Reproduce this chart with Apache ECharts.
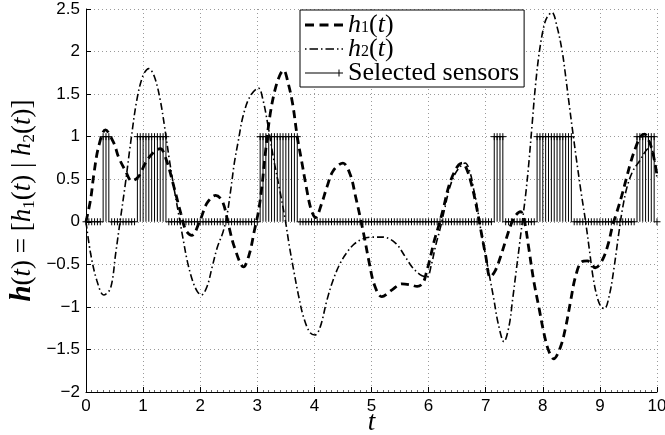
<!DOCTYPE html>
<html><head><meta charset="utf-8">
<script src="https://cdn.jsdelivr.net/npm/echarts@6/dist/echarts.min.js"></script>
<style>html,body{margin:0;padding:0;background:#fff}#c{width:665px;height:435px}</style>
</head><body><div id="c"></div>
<script>
// ---- data ----
const h1T = [0,0.08,0.14,0.22,0.34,0.49,0.57,0.69,0.8,0.92,1.04,1.16,1.3,1.42,1.54,1.66,1.75,1.85,2.0,2.12,2.27,2.39,2.5,2.6,2.76,2.86,2.95,3.02,3.08,3.14,3.22,3.31,3.4,3.46,3.54,3.62,3.7,3.78,3.86,3.94,4.02,4.13,4.22,4.33,4.5,4.63,4.72,4.8,4.88,4.96,5.05,5.18,5.36,5.53,5.68,5.8,5.9,5.96,6.03,6.1,6.18,6.26,6.35,6.44,6.53,6.59,6.66,6.74,6.82,6.91,7.0,7.08,7.17,7.26,7.35,7.45,7.53,7.61,7.68,7.75,7.84,7.93,8.02,8.1,8.19,8.31,8.4,8.49,8.57,8.68,8.78,8.92,9.05,9.15,9.22,9.3,9.38,9.46,9.54,9.63,9.71,9.78,9.86,9.93,10];
const h1V = [0,0.26,0.57,0.88,1.08,0.92,0.76,0.6,0.48,0.53,0.69,0.8,0.86,0.7,0.41,0.1,-0.1,-0.16,0.02,0.22,0.31,0.24,-0.05,-0.3,-0.53,-0.38,-0.1,0.12,0.41,0.8,1.24,1.55,1.73,1.78,1.63,1.38,1.0,0.7,0.4,0.15,0.05,0.22,0.41,0.6,0.69,0.55,0.3,0.06,-0.2,-0.48,-0.74,-0.88,-0.8,-0.73,-0.74,-0.76,-0.72,-0.6,-0.42,-0.22,-0.04,0.16,0.41,0.57,0.67,0.69,0.63,0.47,0.24,-0.08,-0.4,-0.65,-0.57,-0.41,-0.22,-0.02,0.08,0.12,0.0,-0.29,-0.69,-1.0,-1.31,-1.51,-1.61,-1.47,-1.24,-0.92,-0.65,-0.47,-0.46,-0.54,-0.44,-0.25,-0.05,0.12,0.3,0.5,0.7,0.88,1.0,1.03,0.95,0.8,0.55];

const h2T = [0,0.08,0.19,0.31,0.43,0.52,0.6,0.69,0.78,0.89,1.0,1.1,1.2,1.3,1.38,1.46,1.54,1.62,1.7,1.78,1.87,1.95,2.02,2.12,2.21,2.3,2.4,2.47,2.53,2.6,2.67,2.75,2.87,3.02,3.1,3.19,3.28,3.4,3.49,3.56,3.64,3.72,3.81,3.92,4.01,4.1,4.22,4.33,4.45,4.57,4.7,4.85,5.0,5.2,5.42,5.59,5.71,5.85,5.97,6.05,6.12,6.21,6.29,6.36,6.44,6.53,6.64,6.73,6.79,6.85,6.92,7.0,7.07,7.14,7.22,7.32,7.41,7.47,7.53,7.59,7.65,7.7,7.75,7.81,7.87,7.94,8.02,8.08,8.16,8.25,8.34,8.4,8.46,8.52,8.6,8.67,8.75,8.82,8.88,8.95,9.02,9.08,9.17,9.25,9.33,9.4,9.48,9.58,9.7,9.8,9.88,9.95,10];
const h2V = [0,-0.37,-0.69,-0.86,-0.78,-0.37,0.02,0.45,0.92,1.43,1.72,1.8,1.7,1.43,1.1,0.73,0.4,0.1,-0.2,-0.48,-0.7,-0.82,-0.86,-0.76,-0.53,-0.3,-0.12,0.08,0.35,0.7,0.96,1.24,1.47,1.57,1.43,1.12,0.76,0.35,0.02,-0.28,-0.58,-0.86,-1.12,-1.3,-1.33,-1.24,-0.92,-0.68,-0.49,-0.36,-0.26,-0.2,-0.18,-0.18,-0.25,-0.41,-0.53,-0.62,-0.65,-0.5,-0.29,-0.06,0.18,0.38,0.53,0.63,0.69,0.57,0.38,0.18,-0.12,-0.4,-0.65,-0.9,-1.2,-1.41,-1.22,-0.92,-0.6,-0.28,0.05,0.32,0.65,1.12,1.59,2.0,2.3,2.41,2.46,2.29,2.0,1.71,1.39,1.08,0.68,0.35,0.0,-0.35,-0.65,-0.88,-1.0,-1.02,-0.85,-0.53,-0.14,0.17,0.42,0.6,0.72,0.83,0.88,0.76,0.5];

const sensorT = [
 0,0.05,0.1,0.15,0.2,0.25,0.3,0.35,0.4,0.45,0.5,0.55,0.6,0.65,0.7,0.75,0.8,0.85,0.9,0.95,
 1,1.05,1.1,1.15,1.2,1.25,1.3,1.35,1.4,1.45,1.5,1.55,1.6,1.65,1.7,1.75,1.8,1.85,1.9,1.95,
 2,2.05,2.1,2.15,2.2,2.25,2.3,2.35,2.4,2.45,2.5,2.55,2.6,2.65,2.7,2.75,2.8,2.85,2.9,2.95,
 3,3.05,3.1,3.15,3.2,3.25,3.3,3.35,3.4,3.45,3.5,3.55,3.6,3.65,3.7,3.75,3.8,3.85,3.9,3.95,
 4,4.05,4.1,4.15,4.2,4.25,4.3,4.35,4.4,4.45,4.5,4.55,4.6,4.65,4.7,4.75,4.8,4.85,4.9,4.95,
 5,5.05,5.1,5.15,5.2,5.25,5.3,5.35,5.4,5.45,5.5,5.55,5.6,5.65,5.7,5.75,5.8,5.85,5.9,5.95,
 6,6.05,6.1,6.15,6.2,6.25,6.3,6.35,6.4,6.45,6.5,6.55,6.6,6.65,6.7,6.75,6.8,6.85,6.9,6.95,
 7,7.05,7.1,7.15,7.2,7.25,7.3,7.35,7.4,7.45,7.5,7.55,7.6,7.65,7.7,7.75,7.8,7.85,7.9,7.95,
 8,8.05,8.1,8.15,8.2,8.25,8.3,8.35,8.4,8.45,8.5,8.55,8.6,8.65,8.7,8.75,8.8,8.85,8.9,8.95,
 9,9.05,9.1,9.15,9.2,9.25,9.3,9.35,9.4,9.45,9.5,9.55,9.6,9.65,9.7,9.75,9.8,9.85,9.9,9.95,
 10];
const sensorSel = [
 0,0,0,0,0,0,1,1,1,0,0,0,0,0,0,0,0,0,1,1,
 1,1,1,1,1,1,1,1,1,0,0,0,0,0,0,0,0,0,0,0,
 0,0,0,0,0,0,0,0,0,0,0,0,0,0,0,0,0,0,0,0,
 0,1,1,1,1,1,1,1,1,1,1,1,1,1,1,0,0,0,0,0,
 0,0,0,0,0,0,0,0,0,0,0,0,0,0,0,0,0,0,0,0,
 0,0,0,0,0,0,0,0,0,0,0,0,0,0,0,0,0,0,0,0,
 0,0,0,0,0,0,0,0,0,0,0,0,0,0,0,0,0,0,0,0,
 0,0,0,1,1,1,1,0,0,0,0,0,0,0,0,0,0,0,1,1,
 1,1,1,1,1,1,1,1,1,1,1,0,0,0,0,0,0,0,0,0,
 0,0,0,0,0,0,0,0,0,0,0,0,0,1,1,1,1,1,1,1,
 0];

const seriesNames = ['h1', 'h2', 'Selected sensors'];

// ---- build ----
const h1Data = h1T.map((t, i) => [t, h1V[i]]);
const h2Data = h2T.map((t, i) => [t, h2V[i]]);
const stemData = sensorT.map((t, i) => [t, sensorSel[i]]);

const serif = 'Liberation Serif';
const sans = 'Liberation Sans';
const chart = echarts.init(document.getElementById('c'), null, {renderer: 'canvas'});

const gridLine = {show: true, lineStyle: {color: '#9a9a9a', type: [1, 3], width: 1}};

chart.setOption({
  animation: false,
  backgroundColor: '#fff',
  grid: {left: 86, right: 8, top: 9, bottom: 43, containLabel: false, outerBoundsMode: 'none'},
  xAxis: {
    type: 'value', min: 0, max: 10, interval: 1,
    name: 't', nameLocation: 'middle', nameGap: 17, nameMoveOverlap: false,
    nameTextStyle: {fontFamily: serif, fontStyle: 'italic', fontSize: 27, color: '#000'},
    axisLine: {show: true, onZero: false, lineStyle: {color: '#000', width: 1}},
    axisTick: {show: true, inside: true, length: 5, lineStyle: {color: '#000'}},
    minorTick: {show: true, splitNumber: 10, length: 2, lineStyle: {color: '#666'}},
    axisLabel: {fontFamily: sans, fontSize: 17, color: '#000', margin: 6},
    splitLine: gridLine
  },
  yAxis: {
    type: 'value', min: -2, max: 2.5, interval: 0.5,
    name: '{b|h}{n|(}{i|t}{n|) = [}{i|h}{s|1}{n|(}{i|t}{n|) | }{i|h}{s|2}{n|(}{i|t}{n|)]}',
    nameLocation: 'middle', nameRotate: 90, nameGap: 48, nameMoveOverlap: false,
    nameTextStyle: {
      fontFamily: serif, fontSize: 27, color: '#000',
      rich: {
        b: {fontFamily: serif, fontSize: 29, fontWeight: 'bold', fontStyle: 'italic', color: '#000', lineHeight: 30},
        n: {fontFamily: serif, fontSize: 27, color: '#000', lineHeight: 30},
        i: {fontFamily: serif, fontSize: 27, fontStyle: 'italic', color: '#000', lineHeight: 30},
        s: {fontFamily: serif, fontSize: 17, color: '#000', verticalAlign: 'bottom', lineHeight: 22}
      }
    },
    axisLine: {show: true, onZero: false, lineStyle: {color: '#000', width: 1}},
    axisTick: {show: true, inside: true, length: 5, lineStyle: {color: '#000'}},
    axisLabel: {fontFamily: sans, fontSize: 17, color: '#000', margin: 6,
      formatter: v => String(v).replace('-', '\u2212')},
    splitLine: gridLine
  },
  legend: {
    show: true, orient: 'vertical', left: 300, top: 10,
    backgroundColor: '#fff', borderColor: '#000', borderWidth: 1,
    padding: [2, 5, 1, 5], itemGap: -2, itemWidth: 38, itemHeight: 15,
    data: [
      {name: seriesNames[0], icon: 'path://M0,6H9V9H0Z M14.5,6H23.5V9H14.5Z M29,6H38V9H29Z'},
      {name: seriesNames[1], icon: 'path://M0,6.8H1.5V8.2H0Z M4.5,6.8H13V8.2H4.5Z M16,6.8H17.5V8.2H16Z M20.5,6.8H29V8.2H20.5Z M32,6.8H33.5V8.2H32Z M36.5,6.8H38V8.2H36.5Z'},
      {name: seriesNames[2], icon: 'path://M0,6.5H38V7.5H0Z M33.5,3.5H34.5V10.5H33.5Z'}
    ],
    formatter: function (name) {
      if (name === seriesNames[0]) return '{i|h}{s|1}{n|(}{i|t}{n|)}';
      if (name === seriesNames[1]) return '{i|h}{s|2}{n|(}{i|t}{n|)}';
      return '{n|' + name + '}';
    },
    textStyle: {
      fontFamily: serif, fontSize: 26, color: '#000', padding: [0, 0, 0, 0], lineHeight: 22,
      rich: {
        n: {fontFamily: serif, fontSize: 26, color: '#000', lineHeight: 22},
        i: {fontFamily: serif, fontSize: 26, fontStyle: 'italic', color: '#000', lineHeight: 22},
        s: {fontFamily: serif, fontSize: 16, color: '#000', verticalAlign: 'bottom', lineHeight: 15}
      }
    }
  },
  series: [
    {
      name: seriesNames[2], type: 'custom', clip: false, z: 2,
      itemStyle: {color: '#000'},
      data: stemData,
      renderItem: function (params, api) {
        const t = api.value(0), v = api.value(1);
        const p0 = api.coord([t, 0]);
        const p1 = api.coord([t, v]);
        const st = {stroke: '#000', lineWidth: 1, fill: null};
        const ch = [];
        if (v !== 0) ch.push({type: 'line', shape: {x1: p0[0], y1: p0[1], x2: p1[0], y2: p1[1]}, style: st});
        ch.push({type: 'line', shape: {x1: p1[0] - 3.5, y1: p1[1], x2: p1[0] + 3.5, y2: p1[1]}, style: st});
        ch.push({type: 'line', shape: {x1: p1[0], y1: p1[1] - 3.5, x2: p1[0], y2: p1[1] + 3.5}, style: st});
        return {type: 'group', children: ch};
      }
    },
    {
      name: seriesNames[0], type: 'line', data: h1Data, smooth: 0.35,
      showSymbol: false, symbol: 'none', z: 3, clip: true,
      lineStyle: {color: '#000', width: 2.8, type: [8, 5]},
      itemStyle: {color: '#000'}
    },
    {
      name: seriesNames[1], type: 'line', data: h2Data, smooth: 0.35,
      showSymbol: false, symbol: 'none', z: 3, clip: true,
      lineStyle: {color: '#000', width: 1.6, type: [7, 3, 1.5, 3]},
      itemStyle: {color: '#000'}
    }
  ]
});
</script>
</body></html>
